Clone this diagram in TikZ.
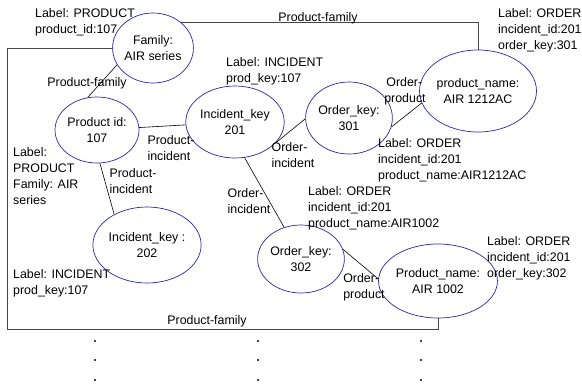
\documentclass[tikz,border=0pt]{standalone}
\usepackage{fontspec}
\setmainfont{Liberation Sans}
\usetikzlibrary{positioning, shapes.geometric}
\definecolor{ringblue}{RGB}{40,40,170}
\definecolor{framegray}{RGB}{70,70,70}

\tikzset{
  ent/.style={ellipse, draw=ringblue, line width=0.7pt, inner sep=0pt, align=center},
  tag/.style={align=left, anchor=west, inner sep=0pt},
  rel/.style={align=left, inner sep=0pt},
  link/.style={draw=black, line width=0.6pt},
  frame/.style={draw=framegray, line width=0.9pt},
}

\begin{document}
\begin{tikzpicture}[x=1pt, y=-1pt, font=\fontsize{12.4}{16}\selectfont]
  \useasboundingbox (0,0) rectangle (582,386);

  % Entities
  \node[ent, minimum width=80pt, minimum height=70pt] (fam)  at (153,48)  {Family:\\AIR series};
  \node[ent, minimum width=84pt, minimum height=66pt] (pid)  at (97,130)  {Product id:\\107};
  \node[ent, minimum width=80pt, minimum height=72pt] (ik1)  at (235,122) {Incident\_key\\201};
  \node[ent, minimum width=78pt, minimum height=72pt] (ok1)  at (349,118) {Order\_key:\\301};
  \node[ent, minimum width=92pt, minimum height=82pt] (pn1)  at (478,91)  {product\_name:\\AIR 1212AC};
  \node[ent, minimum width=90pt, minimum height=76pt] (ik2)  at (147,245) {Incident\_key :\\202};
  \node[ent, minimum width=82pt, minimum height=68pt] (ok2)  at (301,259) {Order\_key:\\302};
  \node[ent, minimum width=94pt, minimum height=74pt] (pn2)  at (438,281) {Product\_name:\\AIR 1002};

  % Product-family frame
  \path[frame] (fam.west) -- (7,48) -- (7,329) -- (pn2.south |- 0,329) -- (pn2.south);
  \path[frame] (fam.42) -- (pn1.north |- fam.42) -- (pn1.north);
  \node[rel] (pf1) at (318,18)  {Product-family};
  \node[rel] (pf2) at (207,321) {Product-family};

  % Relations
  \path[link] (fam.205) -- (pid.106);
  \path[link] (pid) -- (ik1);
  \path[link] (pid.275) -- (ik2.137);
  \path[link] (ik1.332) -- (ok1.181);
  \path[link] (ik1.285) -- (ok2.118);
  \path[link] (ok1.348) -- (pn1.192);
  \path[link] (ok2.13) -- (pn2.178);

  \node[rel] (r1) at (87,83)   {Product-family};
  \node[rel] (r2) at (171,148) {Product-\\incident};
  \node[rel] (r3) at (133,181) {Product-\\incident};
  \node[rel] (r4) at (293,155) {Order-\\incident};
  \node[rel] (r5) at (249,201) {Order-\\incident};
  \node[rel] (r6) at (405,91)  {\,Order-\\product};
  \node[rel] (r7) at (364,287) {Order-\\product};

  % Labels
  \node[tag] (t1) at (35,22)  {Label: PRODUCT\\product\_id:107};
  \node[tag] (t2) at (226,71) {Label: INCIDENT\\prod\_key:107};
  \node[tag] (t3) at (498,30) {Label: ORDER\\incident\_id:201\\order\_key:301};
  \node[tag] (t4) at (13,176) {Label:\\PRODUCT\\Family: AIR\\series};
  \node[tag] (t5) at (378,160) {Label: ORDER\\incident\_id:201\\product\_name:AIR1212AC};
  \node[tag] (t6) at (308,208) {Label: ORDER\\incident\_id:201\\product\_name:AIR1002};
  \node[tag] (t7) at (487,258) {Label: ORDER\\incident\_id:201\\order\_key:302};
  \node[tag] (t8) at (13,283) {Label: INCIDENT\\prod\_key:107};

  % Continuation dots
  \foreach \x in {95,258,421}
    \foreach \y in {341,360,380}
      \fill (\x,\y) circle (1.1pt);
\end{tikzpicture}
\end{document}
